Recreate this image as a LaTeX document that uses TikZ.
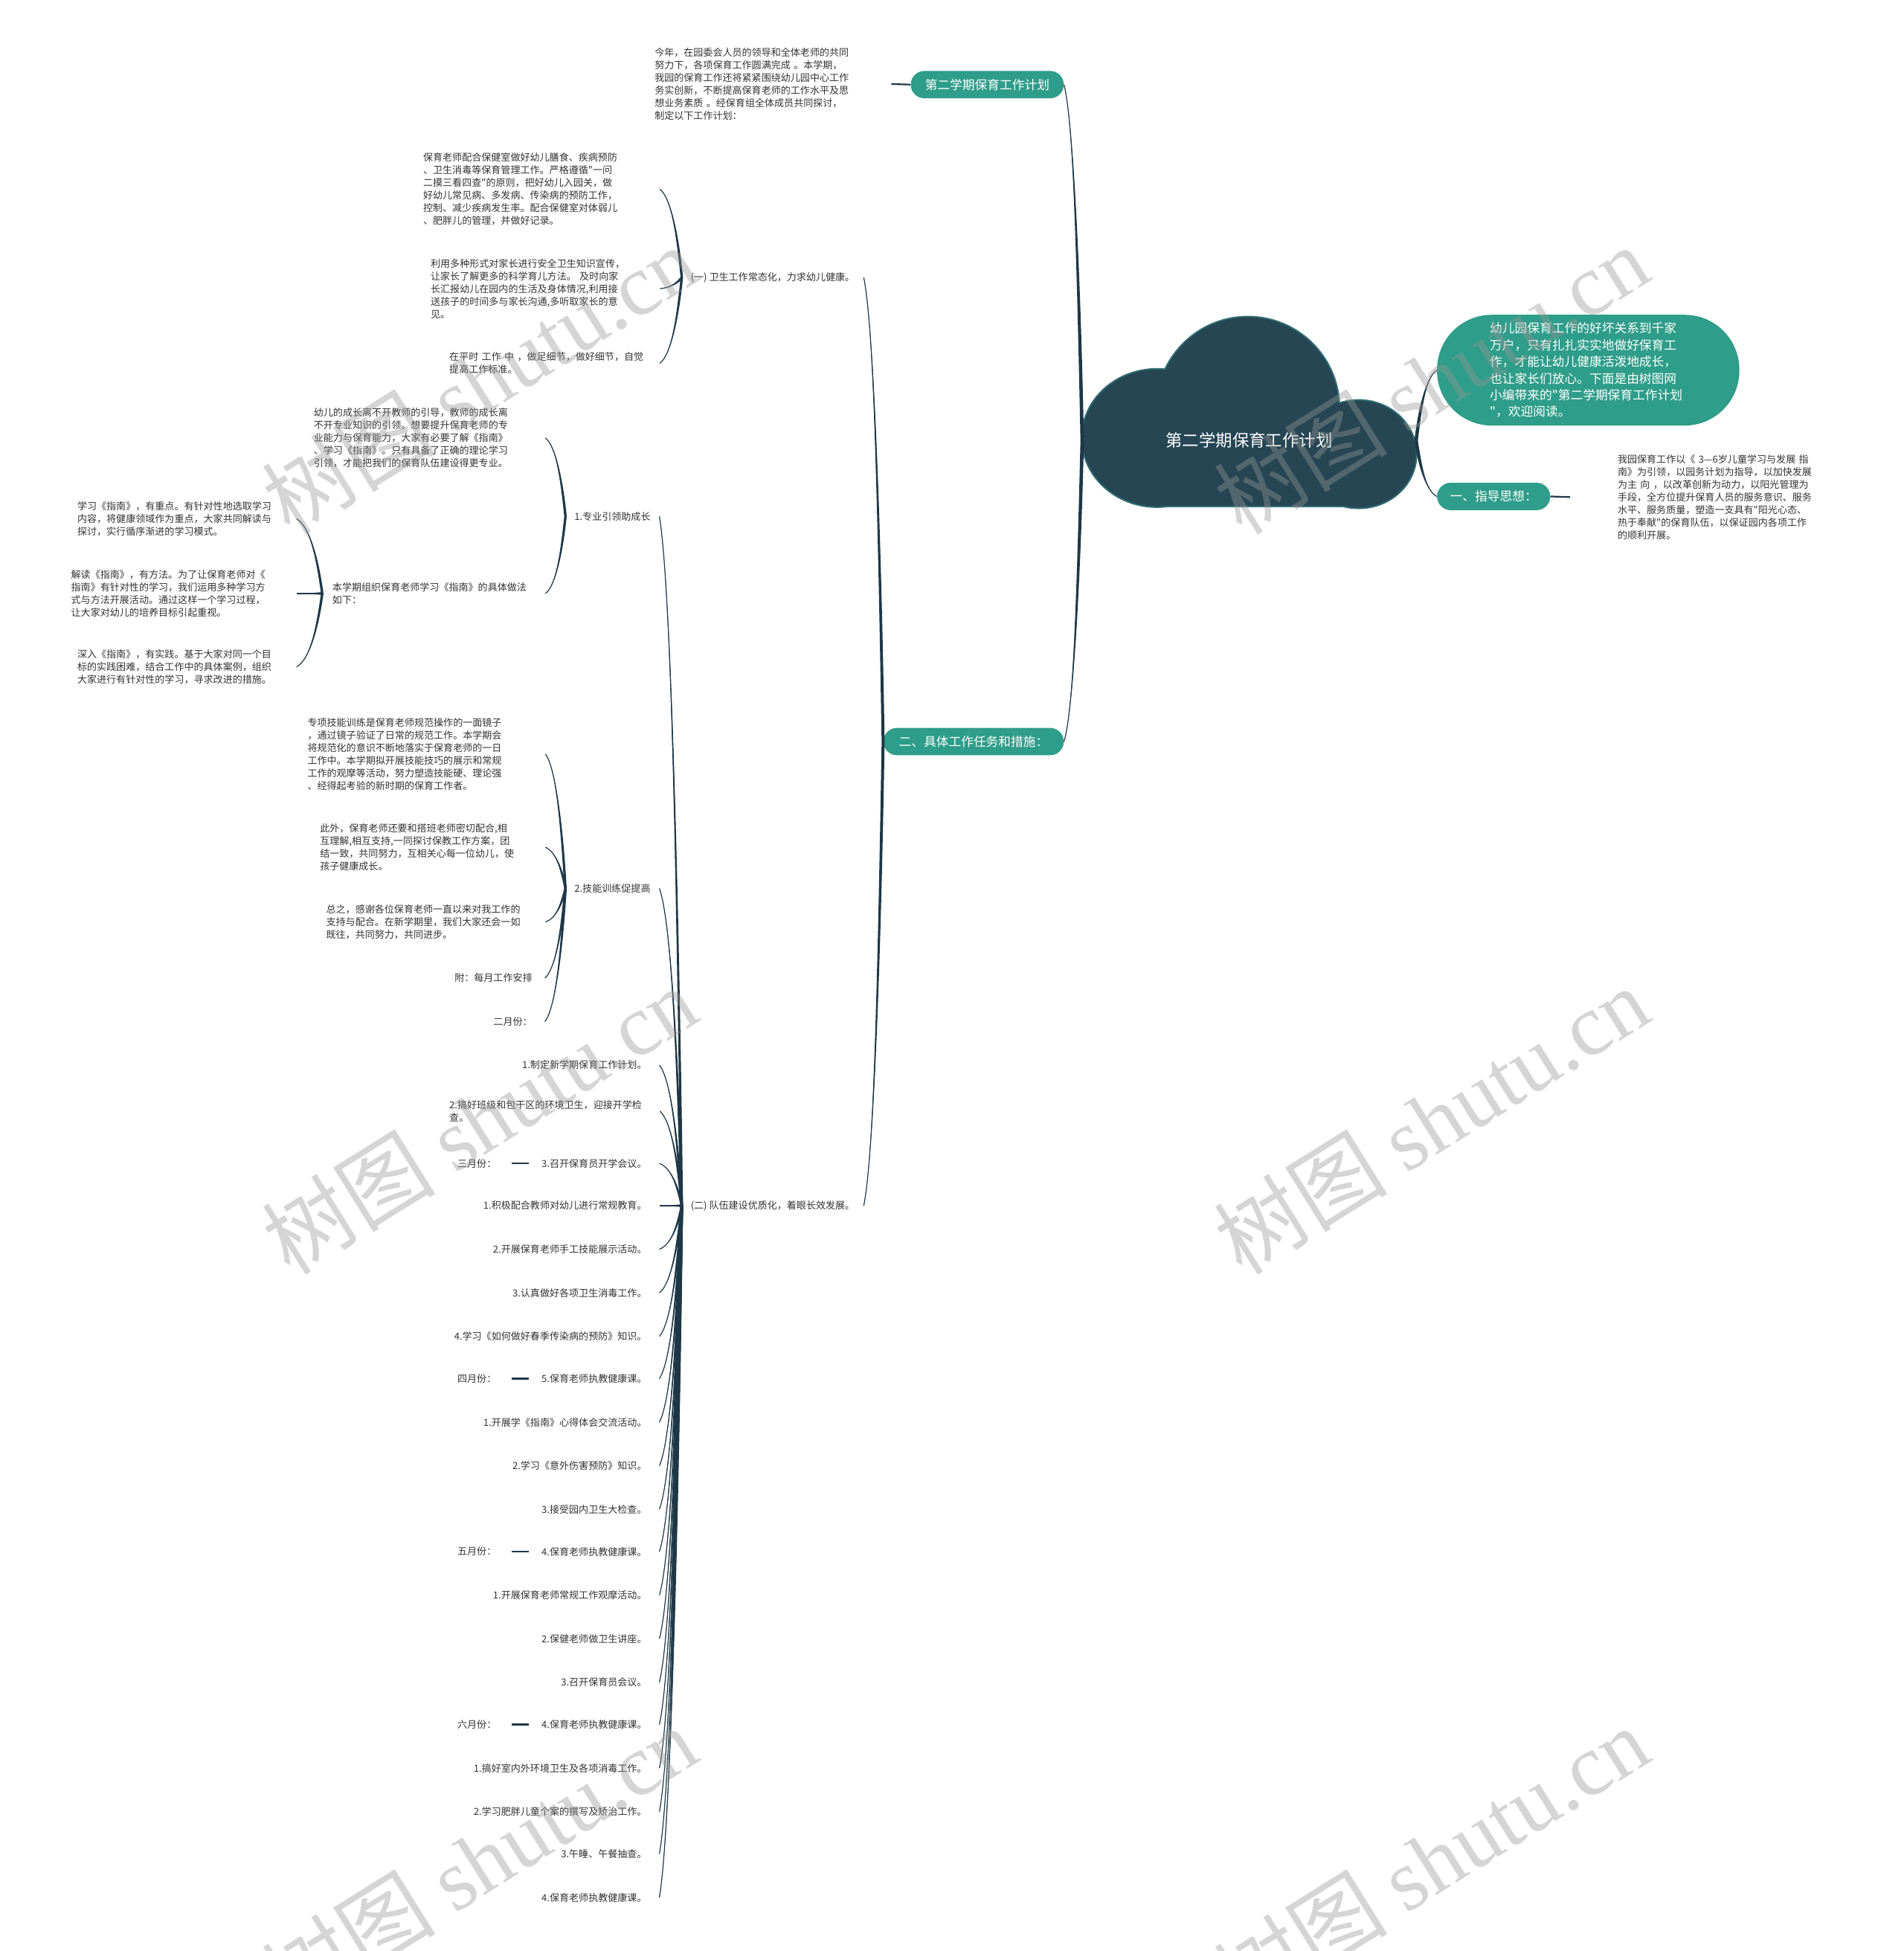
\documentclass[tikz,border=0pt]{standalone}
\usepackage{fontspec}
\setmainfont{Noto Sans CJK SC}[Ligatures=TeXOff]
\newfontfamily\wmserif{Liberation Serif}
\usetikzlibrary{calc}
\definecolor{txtc}{RGB}{51,51,51}
\definecolor{pillc}{RGB}{46,157,137}
\definecolor{cloudc}{RGB}{38,70,84}
\definecolor{cloudb}{RGB}{50,110,116}
\definecolor{linkcol}{RGB}{30,55,70}
\definecolor{wmc}{RGB}{150,150,150}
\tikzset{
  txt/.style={font=\fontsize{7.8}{10.2}\selectfont, text=txtc, inner xsep=8pt, inner ysep=1pt, align=left},
  item/.style={font=\fontsize{7.8}{10.2}\selectfont, text=txtc, inner xsep=10pt, inner ysep=1pt, anchor=east},
  pill/.style={fill=pillc, text=white, rounded corners=11pt, minimum height=22pt, inner xsep=0pt, inner ysep=0pt, font=\fontsize{10}{12}\selectfont},
  tail/.style={draw=linkcol, line width=1.3pt},
  wm/.style={rotate=32, text=wmc, text opacity=0.4, font=\fontsize{70}{70}\selectfont, inner sep=0pt}
}
\newcommand\mmlink[3][2.0]{%
  \fill[linkcol] let \p1=(#2), \p2=(#3), \n1={\x1-\x2}, \n2={\y2-\y1},
    \n3={veclen(0.5*\n2,0.2*\n1)}, \n4={#1*0.25*\n2/\n3}, \n5={#1*0.1*\n1/\n3} in
    ({\x1+\n4},{\y1+\n5}) .. controls ({\x1-0.2*\n1+\n4},{\y1+0.5*\n2+\n5}) and ({\x2+0.5*\n1},{\y2-0.1*\n2}) .. (\x2,\y2)
    .. controls ({\x2+0.5*\n1},{\y2-0.1*\n2}) and ({\x1-0.2*\n1-\n4},{\y1+0.5*\n2-\n5}) .. ({\x1-\n4},{\y1-\n5}) -- cycle;
  \draw[linkcol, line width=0.7pt] let \p1=(#2), \p2=(#3), \n1={\x1-\x2}, \n2={\y2-\y1} in
    (\x1,\y1) .. controls ({\x1-0.2*\n1},{\y1+0.5*\n2}) and ({\x2+0.5*\n1},{\y2-0.1*\n2}) .. (\x2,\y2);
}
\begin{document}
\begin{tikzpicture}[x=1pt,y=-1pt]
\useasboundingbox (0,0) rectangle (1530,1568);
\clip (0,0) rectangle (1530,1568);
\fill[white] (0,0) rectangle (1530,1568);

% cloud
\draw[cloudb, line width=2.4pt] (1003,328) circle[radius=73];
\draw[cloudb, line width=2.4pt] (930,352) ellipse[x radius=60, y radius=55];
\draw[cloudb, line width=2.4pt] (1092,365) ellipse[x radius=46, y radius=43];
\draw[cloudb, line width=2.4pt] (932,345) rectangle (1090,406.5);
\fill[cloudc] (1003,328) circle[radius=73];
\fill[cloudc] (930,352) ellipse[x radius=60, y radius=55];
\fill[cloudc] (1092,365) ellipse[x radius=46, y radius=43];
\fill[cloudc] (932,345) rectangle (1090,406.5);
\node[font=\fontsize{13.4}{16}\selectfont, text=white, minimum width=268pt, inner sep=0pt] (root) at (1004,354) {第二学期保育工作计划};

% first level
\node[pill, minimum width=123pt] (pTitle) at (793.5,68) {第二学期保育工作计划};
\node[pill, minimum width=145pt] (pTask) at (782.5,596) {二、具体工作任务和措施：};
\node[pill, minimum width=91pt] (pGuide) at (1200.5,399) {一、指导思想：};
\node[pill, rounded corners=44pt, minimum width=243pt, minimum height=89pt, text width=158pt, align=left, font=\fontsize{10}{13.4}\selectfont] (intro) at (1276.5,297.5) {幼儿园保育工作的好坏关系到千家\\万户，只有扎扎实实地做好保育工\\作，才能让幼儿健康活泼地成长，\\也让家长们放心。下面是由树图网\\小编带来的"第二学期保育工作计划\\"，欢迎阅读。};

\node[txt, text width=182pt, anchor=west] (titleText) at (518,67.5) {今年，在园委会人员的领导和全体老师的共同\\努力下，各项保育工作圆满完成~。本学期，\\我园的保育工作还将紧紧围绕幼儿园中心工作\\务实创新，不断提高保育老师的工作水平及思\\想业务素质~。经保育组全体成员共同探讨，\\制定以下工作计划：};
\node[txt, inner xsep=38pt, text width=165pt, anchor=west] (guideText) at (1262,399.5) {我园保育工作以《~3—6岁儿童学习与发展~指\\南》为引领，以园务计划为指导，以加快发展\\为主~向~，以改革创新为动力，以阳光管理为\\手段，全方位提升保育人员的服务意识、服务\\水平、服务质量，塑造一支具有"阳光心态、\\热于奉献"的保育队伍，以保证园内各项工作\\的顺利开展。};

% sections
\node[txt, inner xsep=7pt, anchor=west] (sec1) at (548,223) {(一)~卫生工作常态化，力求幼儿健康。};
\node[txt, inner xsep=7pt, anchor=west] (sec2) at (548,969) {(二)~队伍建设优质化，着眼长效发展。};

% under sec1
\node[txt, text width=182pt, anchor=west] (a1) at (332,152) {保育老师配合保健室做好幼儿膳食、疾病预防\\、卫生消毒等保育管理工作。严格遵循"一问\\二摸三看四查"的原则，把好幼儿入园关，做\\好幼儿常见病、多发病、传染病的预防工作，\\控制、减少疾病发生率。配合保健室对体弱儿\\、肥胖儿的管理，并做好记录。};
\node[txt, text width=176pt, anchor=west] (a2) at (338,232) {利用多种形式对家长进行安全卫生知识宣传，\\让家长了解更多的科学育儿方法。~及时向家\\长汇报幼儿在园内的生活及身体情况,利用接\\送孩子的时间多与家长沟通,多听取家长的意\\见。};
\node[txt, text width=161pt, anchor=west] (a3) at (353,292) {在平时~工作~中~，做足细节，做好细节，自觉\\提高工作标准。};

% under sec2: two topics
\node[txt, inner xsep=7pt, anchor=east] (p1) at (530,415) {1.专业引领助成长};
\node[txt, inner xsep=7pt, anchor=east] (p2) at (530,714) {2.技能训练促提高};

\node[txt, text width=178pt, anchor=west] (z1) at (244,352) {幼儿的成长离不开教师的引导，教师的成长离\\不开专业知识的引领。想要提升保育老师的专\\业能力与保育能力，大家有必要了解《指南》\\、学习《指南》。只有具备了正确的理论学习\\引领，才能把我们的保育队伍建设得更专业。};
\node[txt, text width=163pt, anchor=west] (z2) at (259,477) {本学期组织保育老师学习《指南》的具体做法\\如下：};

\node[txt, text width=168pt, anchor=west] (g1) at (54,417) {学习《指南》，有重点。有针对性地选取学习\\内容，将健康领域作为重点，大家共同解读与\\探讨，实行循序渐进的学习模式。};
\node[txt, text width=173pt, anchor=west] (g2) at (49,477) {解读《指南》，有方法。为了让保育老师对《\\指南》有针对性的学习，我们运用多种学习方\\式与方法开展活动。通过这样一个学习过程，\\让大家对幼儿的培养目标引起重视。};
\node[txt, text width=168pt, anchor=west] (g3) at (54,536) {深入《指南》，有实践。基于大家对同一个目\\标的实践困难，结合工作中的具体案例，组织\\大家进行有针对性的学习，寻求改进的措施。};

\node[txt, text width=183pt, anchor=west] (k1) at (239,606) {专项技能训练是保育老师规范操作的一面镜子\\，通过镜子验证了日常的规范工作。本学期会\\将规范化的意识不断地落实于保育老师的一日\\工作中。本学期拟开展技能技巧的展示和常规\\工作的观摩等活动，努力塑造技能硬、理论强\\、经得起考验的新时期的保育工作者。};
\node[txt, text width=173pt, anchor=west] (k2) at (249,681) {此外，保育老师还要和搭班老师密切配合,相\\互理解,相互支持,一同探讨保教工作方案，团\\结一致，共同努力，互相关心每一位幼儿，使\\孩子健康成长。};
\node[txt, text width=168pt, anchor=west] (k3) at (254,741) {总之，感谢各位保育老师一直以来对我工作的\\支持与配合。在新学期里，我们大家还会一如\\既往，共同努力，共同进步。};
\node[item] (k4) at (438,786) {附：每月工作安排};
\node[item] (k5) at (438,821) {二月份：};

% monthly items
\node[item] (m1) at (530,856) {1.制定新学期保育工作计划。};
\node[txt, text width=161pt, anchor=west] (m2) at (353,893) {2.搞好班级和包干区的环境卫生，迎接开学检\\查。};
\node[item] (m3) at (530,935) {3.召开保育员开学会议。};
\node[item] (m4) at (530,969) {1.积极配合教师对幼儿进行常规教育。};
\node[item] (m5) at (530,1004) {2.开展保育老师手工技能展示活动。};
\node[item] (m6) at (530,1039) {3.认真做好各项卫生消毒工作。};
\node[item] (m7) at (530,1074) {4.学习《如何做好春季传染病的预防》知识。};
\node[item] (m8) at (530,1108) {5.保育老师执教健康课。};
\node[item] (m9) at (530,1143) {1.开展学《指南》心得体会交流活动。};
\node[item] (m10) at (530,1178) {2.学习《意外伤害预防》知识。};
\node[item] (m11) at (530,1213) {3.接受园内卫生大检查。};
\node[item] (m12) at (530,1247) {4.保育老师执教健康课。};
\node[item] (m13) at (530,1282) {1.开展保育老师常规工作观摩活动。};
\node[item] (m14) at (530,1317) {2.保健老师做卫生讲座。};
\node[item] (m15) at (530,1352) {3.召开保育员会议。};
\node[item] (m16) at (530,1386) {4.保育老师执教健康课。};
\node[item] (m17) at (530,1421) {1.搞好室内外环境卫生及各项消毒工作。};
\node[item] (m18) at (530,1456) {2.学习肥胖儿童个案的撰写及矫治工作。};
\node[item] (m19) at (530,1490) {3.午睡、午餐抽查。};
\node[item] (m20) at (530,1525) {4.保育老师执教健康课。};

\node[item, inner xsep=12pt] (mon3) at ([xshift=-14pt]m3.west) {三月份：};
\node[item, inner xsep=12pt] (mon8) at ([xshift=-14pt]m8.west) {四月份：};
\node[item, inner xsep=12pt] (mon12) at ([xshift=-14pt]m12.west) {五月份：};
\node[item, inner xsep=12pt] (mon16) at ([xshift=-14pt]m16.west) {六月份：};

% connectors
\mmlink[2.8]{root.west}{pTitle.east}
\mmlink[2.8]{root.west}{pTask.east}
\mmlink[2.8]{root.east}{intro.west}
\mmlink[2.8]{root.east}{pGuide.west}
\mmlink[2.4]{pTask.west}{sec1.east}
\mmlink[2.4]{pTask.west}{sec2.east}
\mmlink{sec1.west}{a1.east}
\mmlink{sec1.west}{a2.east}
\mmlink{sec1.west}{a3.east}
\mmlink{sec2.west}{p1.east}
\mmlink{sec2.west}{p2.east}
\mmlink{p1.west}{z1.east}
\mmlink{p1.west}{z2.east}
\mmlink{z2.west}{g1.east}
\mmlink{z2.west}{g2.east}
\mmlink{z2.west}{g3.east}
\mmlink{p2.west}{k1.east}
\mmlink{p2.west}{k2.east}
\mmlink{p2.west}{k3.east}
\mmlink{p2.west}{k4.east}
\mmlink{p2.west}{k5.east}
\foreach \i in {1,...,20}{\mmlink{sec2.west}{m\i.east}}

\draw[tail] (titleText.east) -- (pTitle.west);
\draw[tail] (pGuide.east) -- (guideText.west);
\draw[tail] (mon3.east) -- (m3.west);
\draw[tail] (mon8.east) -- (m8.west);
\draw[tail] (mon12.east) -- (m12.west);
\draw[tail] (mon16.east) -- (m16.west);

% watermarks (drawn over everything, semi-transparent)
\node[wm] (wm1) at (385,305) {树图~{\wmserif shutu.cn}};
\node[wm] (wm2) at (385,900) {树图~{\wmserif shutu.cn}};
\node[wm] (wm3) at (385,1495) {树图~{\wmserif shutu.cn}};
\node[wm] (wm4) at (1150,305) {树图~{\wmserif shutu.cn}};
\node[wm] (wm5) at (1150,900) {树图~{\wmserif shutu.cn}};
\node[wm] (wm6) at (1150,1495) {树图~{\wmserif shutu.cn}};
\end{tikzpicture}
\end{document}
